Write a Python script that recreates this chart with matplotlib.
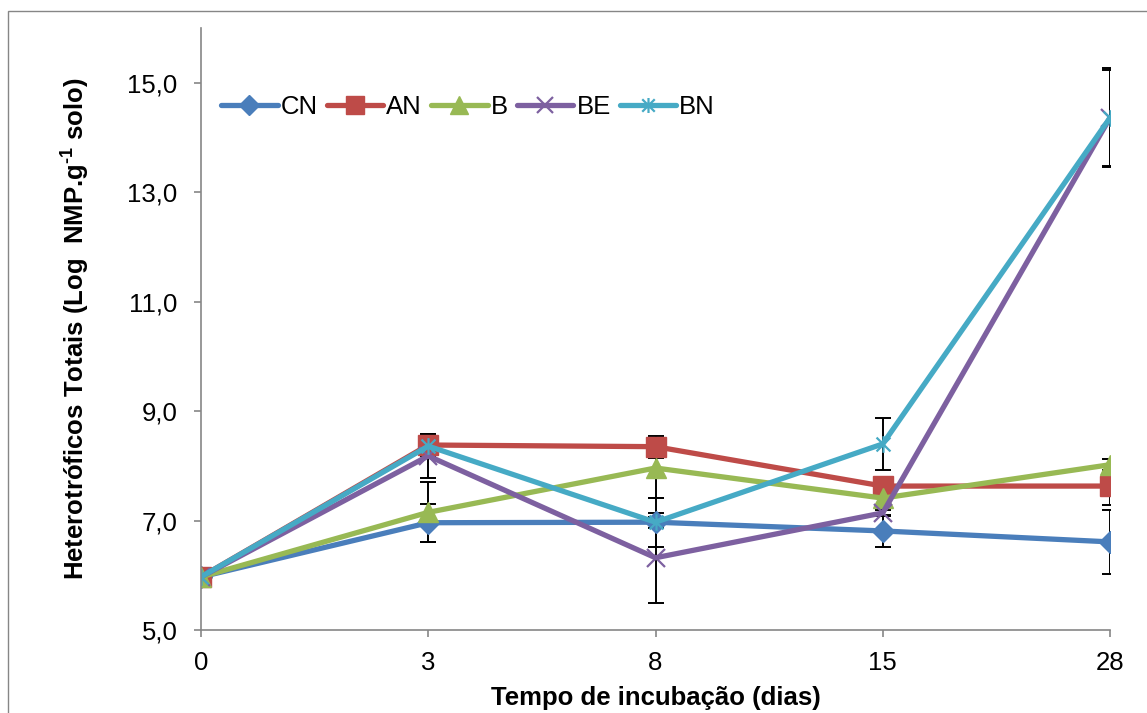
import numpy as np
import matplotlib
matplotlib.use("Agg")
import matplotlib.pyplot as plt
from matplotlib.path import Path
from matplotlib.patches import Rectangle

plt.rcParams["font.family"] = ["Liberation Sans", "DejaVu Sans"]
plt.rcParams["mathtext.fontset"] = "custom"
plt.rcParams["mathtext.bf"] = "Liberation Sans:bold"
plt.rcParams["mathtext.rm"] = "Liberation Sans:bold"

# Dados (tempo de incubação em dias, categorias igualmente espaçadas)
dias = ["0", "3", "8", "15", "28"]
series = ["CN", "AN", "B", "BE", "BN"]

cn = [5.97, 6.96, 6.97, 6.81, 6.61]
an = [5.97, 8.38, 8.35, 7.63, 7.63]
b = [5.97, 7.15, 7.96, 7.41, 8.02]
be = [5.97, 8.18, 6.32, 7.14, 14.36]
bn = [5.97, 8.36, 6.97, 8.40, 14.36]

cn_err = [0.0, 0.35, 0.10, 0.30, 0.58]
an_err = [0.0, 0.20, 0.20, 0.05, 0.35]
b_err = [0.0, 0.55, 0.55, 0.20, 0.10]
be_err = [0.0, 0.40, 0.82, 0.05, 0.90]
bn_err = [0.0, 0.10, 0.45, 0.47, 0.88]

yticks = [5.0, 7.0, 9.0, 11.0, 13.0, 15.0]

cores = ["#4A7EBB", "#BE4B48", "#98B954", "#7D60A0", "#46AAC5"]

# marcador estrela do Excel (x com traço vertical)
estrela = Path(
    [(-1, -1), (1, 1), (-1, 1), (1, -1), (0, -1.2), (0, 1.2)],
    [Path.MOVETO, Path.LINETO, Path.MOVETO, Path.LINETO, Path.MOVETO, Path.LINETO],
)
marcadores = ["D", "s", "^", "x", estrela]
tamanhos = [11, 14, 14, 13, 12]

fig = plt.figure(figsize=(11.47, 7.13), dpi=100)
fig.patches.append(Rectangle((8 / 1147, -0.1), 1.2, 1.1 - 11 / 713,
                             transform=fig.transFigure, fill=False,
                             edgecolor="#868686", linewidth=1.0))
ax = fig.add_axes([201 / 1147, 83 / 713, 909 / 1147, 602 / 713])

x = np.arange(len(dias))
valores = [cn, an, b, be, bn]
erros = [cn_err, an_err, b_err, be_err, bn_err]

# barras de erro por baixo das linhas
for v, e in zip(valores, erros):
    ax.errorbar(x, v, yerr=e, fmt="none", ecolor="black", elinewidth=1.4,
                capsize=6, capthick=1.4, zorder=1)

for nome, v, c, m, ms in zip(series, valores, cores, marcadores, tamanhos):
    ax.plot(x, v, color=c, linewidth=3.8, marker=m, markersize=ms,
            markeredgewidth=1.6 if m in ("x",) or m is estrela else 1.0,
            markeredgecolor=c, markerfacecolor=c, label=nome, zorder=2,
            solid_capstyle="round")

ax.set_xlim(0, 4)
ax.set_ylim(5.0, 16.0)
ax.set_xticks(x)
ax.set_xticklabels(dias)
ax.set_yticks(yticks)
ax.set_yticklabels([f"{t:.1f}".replace(".", ",") for t in yticks])

for lado in ("top", "right"):
    ax.spines[lado].set_visible(False)
for lado in ("left", "bottom"):
    ax.spines[lado].set_color("#868686")
    ax.spines[lado].set_linewidth(1.2)

ax.tick_params(axis="both", direction="out", length=5, width=1.2,
               color="#868686", labelsize=18.5, labelcolor="black")
ax.tick_params(axis="y", pad=12)
ax.tick_params(axis="x", pad=10)

ax.set_xlabel("Tempo de incubação (dias)", fontsize=18.5, fontweight="bold",
              labelpad=8)
ax.set_ylabel(r"Heterotróficos Totais (Log  NMP.g$^{\text{-1}}$ solo)",
              fontsize=18.5, fontweight="bold", labelpad=26)

leg = ax.legend(loc="center left", bbox_to_anchor=(0.022, 0.869), ncol=5,
                frameon=False, fontsize=18.5, handlelength=2.2,
                handletextpad=0.12, columnspacing=0.35, borderpad=0,
                borderaxespad=0, markerscale=0.9)

fig.savefig("out.png", dpi=100)
